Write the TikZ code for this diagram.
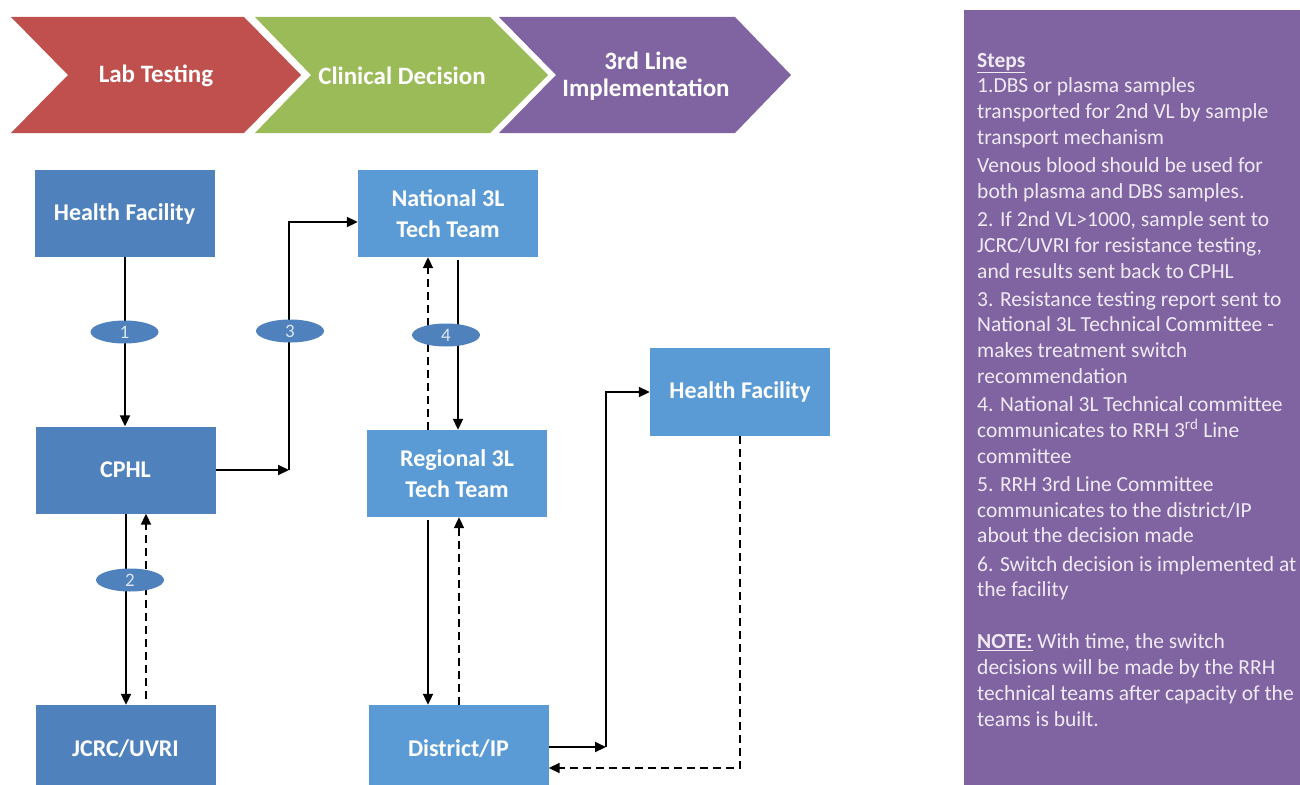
\documentclass[tikz,border=0pt]{standalone}
\usepackage{fontspec}
\setmainfont{Carlito}
\usetikzlibrary{arrows.meta,shapes.geometric,calc}
\definecolor{cred}{HTML}{C0504D}
\definecolor{cgreen}{HTML}{9BBB59}
\definecolor{cpurple}{HTML}{8064A2}
\definecolor{cdark}{HTML}{4F81BD}
\definecolor{clight}{HTML}{5B9BD5}
\definecolor{ptext}{HTML}{EFEAF4}
\definecolor{etext}{HTML}{DCE6F2}
\begin{document}
\begin{tikzpicture}[x=1pt,y=-1pt,
  boxnode/.style={fill=#1, draw=none, minimum width=180pt, minimum height=87pt, inner sep=0pt,
    text=white, font=\fontsize{24}{31}\selectfont\bfseries, align=center},
  chevtext/.style={text=white, font=\fontsize{25}{27}\selectfont\bfseries, align=center, inner sep=0pt},
  numell/.style={ellipse, fill=cdark, draw=none, minimum width=68pt, minimum height=23pt, inner sep=0pt,
    text=etext, font=\fontsize{19}{20}\selectfont},
  arr/.style={-{Triangle[length=11pt,width=10pt]}, line width=2pt},
  dsh/.style={dash pattern=on 8pt off 5pt}]
\useasboundingbox (0,0) rectangle (1300,784);
\clip (0,0) rectangle (1300,784);

% chevrons
\fill[cred] (11,17) -- (244,17) -- (301,75) -- (244,133) -- (11,133) -- (68,75) -- cycle;
\fill[cgreen] (255,17) -- (490,17) -- (548,75) -- (490,133) -- (255,133) -- (311,75) -- cycle;
\fill[cpurple] (499,17) -- (735,17) -- (791,75) -- (735,133) -- (499,133) -- (556,75) -- cycle;
\node[chevtext] (lab) at (156,76) {Lab Testing};
\node[chevtext] (clin) at (402,76) {Clinical Decision};
\node[chevtext] (impl) at (646,76) {3rd Line\\Implementation};

% right panel
\fill[cpurple] (964,10) rectangle (1300,790);
\node[anchor=base west, inner sep=0pt, text=ptext, font=\fontsize{21.5}{25.8}\selectfont] (steps) at (977,67)
{\parbox[t]{400pt}{\raggedright
\underline{\textbf{Steps}}\\
1.DBS or plasma samples\\
transported for 2nd VL by sample\\
transport mechanism\\[2.3pt]
Venous blood should be used for\\
both plasma and DBS samples.\\[2.3pt]
2. If 2nd VL>1000, sample sent to\\
JCRC/UVRI for resistance testing,\\
and results sent back to CPHL\\[2.3pt]
3. Resistance testing report sent to\\
National 3L Technical Committee -\\
makes treatment switch\\
recommendation\\[2.3pt]
4. National 3L Technical committee\\
communicates to RRH 3\textsuperscript{rd} Line\\
committee\\[2.3pt]
5. RRH 3rd Line Committee\\
communicates to the district/IP\\
about the decision made\\[2.3pt]
6. Switch decision is implemented at\\
the facility\\[26.2pt]
\underline{\textbf{NOTE:}} With time, the switch\\
decisions will be made by the RRH\\
technical teams after capacity of the\\
teams is built.}};

% boxes
\node[boxnode=cdark] (hf1) at (124.5,213.5) {Health Facility};
\node[boxnode=cdark] (cphl) at (125.5,470) {CPHL};
\node[boxnode=cdark, minimum height=88pt] (jcrc) at (125.5,749) {JCRC/UVRI};
\node[boxnode=clight] (nat) at (448,213.5) {National 3L\\Tech Team};
\node[boxnode=clight] (reg) at (457,473.5) {Regional 3L\\Tech Team};
\node[boxnode=clight, minimum height=88pt] (dist) at (458.5,749) {District/IP};
\node[boxnode=clight, minimum height=88pt] (hf2) at (740,392) {Health Facility};

% connector coordinates
\coordinate (e3) at (289,470);
\coordinate (e5) at (606,747);
\coordinate (e6) at (740,768);

% connectors
\draw[arr] ([xshift=0.5pt]hf1.south) -- ([xshift=0.5pt]hf1.south |- cphl.north);
\draw[arr] ([xshift=0.5pt]cphl.south) -- ([xshift=0.5pt]cphl.south |- jcrc.north);
\draw[arr,dsh] ([xshift=20.5pt,yshift=6pt]jcrc.north) -- ([xshift=20.5pt]jcrc.north |- cphl.south);
\draw[arr] (cphl.east) -- (e3);
\draw[arr] (e3) |- ([yshift=-8.5pt]nat.west);
\draw[arr] ([xshift=10pt,yshift=-3pt]nat.south) -- ([xshift=10pt]nat.south |- reg.north);
\draw[arr,dsh] ([xshift=-20pt]nat.south |- reg.north) -- ([xshift=-20pt]nat.south);
\draw[arr] ([xshift=-29pt,yshift=-3pt]reg.south) -- ([xshift=-29pt]reg.south |- dist.north);
\draw[arr,dsh] ([xshift=2pt]reg.south |- dist.north) -- ([xshift=2pt]reg.south);
\draw[arr] (dist.east |- e5) -- (e5);
\draw[arr] (e5) |- (hf2.west);
\draw[arr,dsh] (hf2.south) -- (e6) -- (dist.east |- e6);

% step labels
\node[numell] (n1) at (124.5,332) {1};
\node[numell] (n2) at (130,580) {2};
\node[numell] (n3) at (290,331) {3};
\node[numell] (n4) at (446,335) {4};
\end{tikzpicture}
\end{document}
